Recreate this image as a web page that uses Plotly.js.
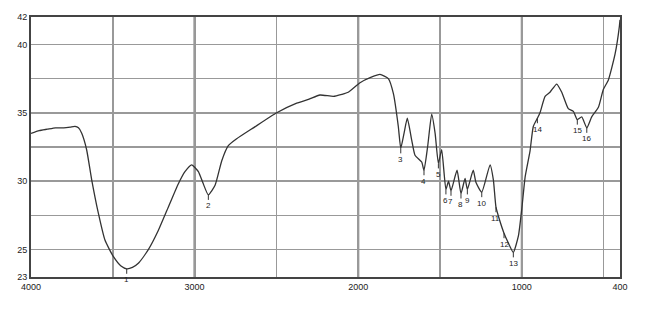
<!DOCTYPE html>
<html><head><meta charset="utf-8">
<script src="https://cdn.plot.ly/plotly-3.0.1.min.js"></script>
<style>html,body{margin:0;padding:0;background:#fff;}#chart{width:650px;height:312px;}</style>
</head><body><div id="chart"></div>
<script>
// Wavenumber (cm-1) and transmittance (%T)
const wavenumber = [4000,3950,3900,3850,3800,3760,3731,3710,3690,3660,3629,3589,3548,3497,3450,3415,3380,3344,3283,3222,3161,3100,3059,3018,2977,2950,2916,2875,2834,2794,2743,2641,2498,2376,2300,2234,2152,2100,2061,1989,1920,1867,1816,1785,1755,1740,1720,1700,1673,1653,1612,1598,1575,1551,1530,1510,1490,1464,1448,1433,1396,1372,1347,1333,1297,1280,1245,1194,1174,1158,1137,1109,1083,1052,1021,1000,980,950,930,905,889,858,828,787,756,716,685,661,634,603,573,532,502,471,430,404,400];
const transmittance = [33.5,33.7,33.8,33.9,33.9,33.95,34.0,33.9,33.5,32.3,30.1,27.7,25.7,24.5,23.8,23.6,23.7,24.0,25.0,26.4,28.1,29.8,30.7,31.2,30.7,29.9,29.0,29.7,31.5,32.6,33.1,33.9,35.0,35.7,36.0,36.3,36.2,36.35,36.5,37.2,37.6,37.8,37.5,36.4,34.0,32.4,33.5,34.6,33.0,31.9,31.4,30.8,32.6,34.9,33.5,31.3,32.3,29.4,30.0,29.3,30.8,29.1,30.2,29.4,30.8,29.9,29.2,31.2,30.1,28.1,27.2,26.2,25.5,24.8,26.0,28.0,30.3,32.2,34.0,34.6,35.0,36.2,36.5,37.1,36.5,35.3,35.1,34.5,34.7,33.9,34.7,35.4,36.7,37.4,39.3,41.3,41.8];

// Numbered absorption peaks
const peakNo = ['1','2','3','4','5','6','7','8','9','10','11','12','13','14','15','16'];
const peakWn = [3415,2916,1740,1598,1510,1464,1433,1372,1333,1245,1158,1109,1052,905,661,603];
const peakT  = [23.6,29.0,32.4,30.8,31.3,29.4,29.3,29.1,29.4,29.2,28.1,26.2,24.8,34.6,34.5,33.9];

// Axis ticks
const xTickVals = [4000,3500,3000,2500,2000,1500,1000,500,400];
const xTickText = ['4000','','3000','','2000','','1000','','400'];
const yTickVals = [23,25,27.5,30,32.5,35,37.5,40,42];
const yTickText = ['23','25','','30','','35','','40','42'];
const majorGrid = [3000,2000,1000];

const trace = {
  x: wavenumber, y: transmittance, type: 'scatter', mode: 'lines',
  line: {color: '#333333', width: 1.3, shape: 'spline', smoothing: 0.5},
  hoverinfo: 'x+y'
};

const annotations = peakNo.map((t, i) => ({
  x: peakWn[i], y: peakT[i], xref: 'x', yref: 'y', text: t,
  showarrow: true, arrowhead: 0, arrowwidth: 1, arrowcolor: '#333',
  ax: 0, ay: 11, font: {family: 'Liberation Sans, Arial, sans-serif', size: 8, color: '#222'}
}));

const shapes = majorGrid.map(v => ({
  type: 'line', xref: 'x', yref: 'paper', x0: v, x1: v, y0: 0, y1: 1,
  layer: 'below', line: {color: '#555555', width: 2}
}));

const layout = {
  width: 650, height: 312,
  margin: {l: 31, r: 30, t: 17, b: 35},
  paper_bgcolor: '#fff', plot_bgcolor: '#fff',
  showlegend: false,
  font: {family: 'Liberation Sans, Arial, sans-serif', size: 9, color: '#222'},
  xaxis: {
    range: [4000, 400], tickvals: xTickVals, ticktext: xTickText,
    showgrid: true, gridcolor: '#999999', gridwidth: 1.5,
    showline: true, mirror: true, linecolor: '#444', linewidth: 2,
    ticks: '', zeroline: false, tickfont: {size: 9, color: '#222'}
  },
  yaxis: {
    range: [23, 42], tickvals: yTickVals, ticktext: yTickText,
    showgrid: true, gridcolor: '#999999', gridwidth: 1.5,
    showline: true, mirror: true, linecolor: '#444', linewidth: 2,
    ticks: '', zeroline: false, tickfont: {size: 9, color: '#222'}
  },
  shapes: shapes,
  annotations: annotations
};

Plotly.newPlot('chart', [trace], layout, {displayModeBar: false, staticPlot: true});
</script></body></html>
